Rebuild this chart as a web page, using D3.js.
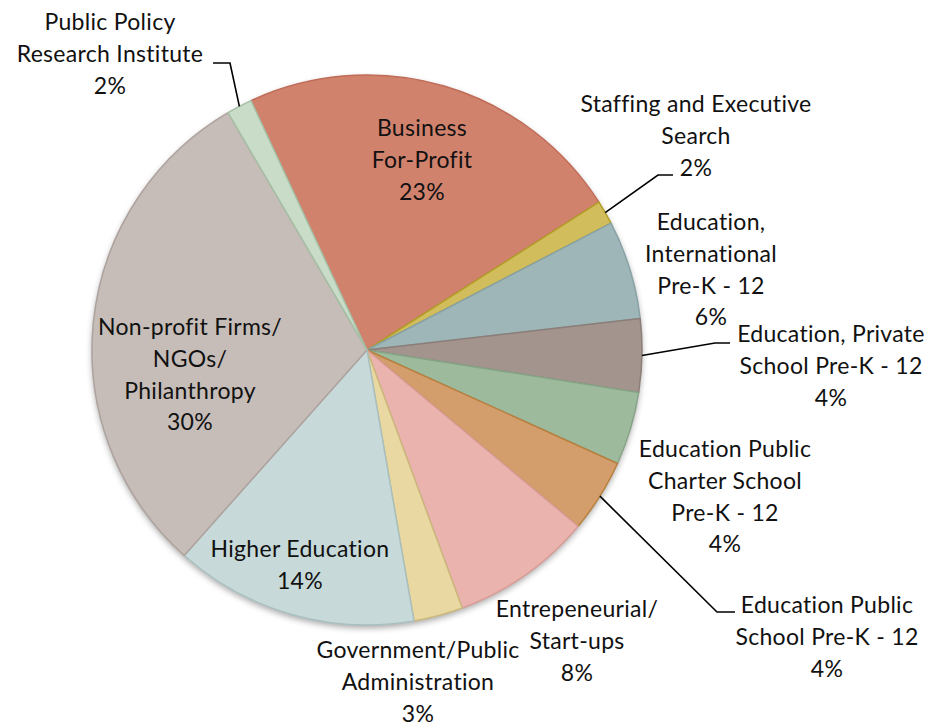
<!DOCTYPE html>
<html>
<head>
<meta charset="utf-8">
<script src="https://cdn.jsdelivr.net/npm/d3@7"></script>
<style>
  html, body { margin: 0; padding: 0; background: #fff; }
  svg text { font-family: "Lato", "Open Sans", sans-serif; font-size: 23px; letter-spacing: 0.3px;
             font-variant-ligatures: none; font-feature-settings: "liga" 0, "clig" 0, "dlig" 0; fill: #111; }
</style>
</head>
<body>
<svg id="chart" width="930" height="726"></svg>
<script>
// ---- Data ----
const categories = [
  "Business For-Profit",
  "Staffing and Executive Search",
  "Education, International Pre-K - 12",
  "Education, Private School Pre-K - 12",
  "Education Public Charter School Pre-K - 12",
  "Education Public School Pre-K - 12",
  "Entrepeneurial/ Start-ups",
  "Government/Public Administration",
  "Higher Education",
  "Non-profit Firms/ NGOs/ Philanthropy",
  "Public Policy Research Institute"
];
const values = [22.9, 1.4, 5.8, 4.3, 4.3, 4.3, 8.3, 2.9, 14.3, 30.0, 1.5];
const percentLabels = ["23%", "2%", "6%", "4%", "4%", "4%", "8%", "3%", "14%", "30%", "2%"];
const labelLines = [
  ["Business", "For-Profit"],
  ["Staffing and Executive", "Search"],
  ["Education,", "International", "Pre-K - 12"],
  ["Education, Private", "School Pre-K - 12"],
  ["Education Public", "Charter School", "Pre-K - 12"],
  ["Education Public", "School Pre-K - 12"],
  ["Entrepeneurial/", "Start-ups"],
  ["Government/Public", "Administration"],
  ["Higher Education"],
  ["Non-profit Firms/", "NGOs/", "Philanthropy"],
  ["Public Policy", "Research Institute"]
];
const fillColors = ["#D1826D", "#D2BD5C", "#9EB6B8", "#A3958E", "#9EBA9D", "#D49E6C",
                    "#EBB3AE", "#E9D8A1", "#C8D9D9", "#C6BDB8", "#C8DCC8"];
const strokeColors = ["#C06C57", "#B29E27", "#88A2A5", "#8C7E78", "#86A386", "#B8803F",
                      "#D99C96", "#CBB87C", "#A9C0C1", "#ADA29D", "#A6C0A5"];

// ---- Layout (positions) ----
const cx = 367, cy = 350, R = 275;
const startDeg = -24.95;
const lineH = 31.8;
// label anchor: x center, first baseline
const labelPos = [
  [422, 136], [696, 112], [711, 230], [831, 342], [725, 457], [827, 613],
  [577, 617], [418, 658], [300, 557], [190, 335], [110, 30]
];
// leader lines: [elbow point, end point] (null = none)
const leaders = [
  null, [[658, 175], [673, 175]], null, [[715, 343], [730, 343]], null,
  [[717, 612], [735, 612]], null, null, null, null, [[230, 63], [213, 63]]
];

const svg = d3.select("#chart");
const defs = svg.append("defs");
const f = defs.append("filter").attr("id", "shadow")
  .attr("x", "-10%").attr("y", "-10%").attr("width", "120%").attr("height", "125%");
f.append("feDropShadow").attr("dx", 0).attr("dy", 3).attr("stdDeviation", 3)
  .attr("flood-color", "#000").attr("flood-opacity", 0.35);

const pie = d3.pie().sort(null)
  .startAngle(startDeg * Math.PI / 180)
  .endAngle(startDeg * Math.PI / 180 + 2 * Math.PI)
  .value(d => d);
const arcs = pie(values);
const arc = d3.arc().innerRadius(0).outerRadius(R);

const g = svg.append("g").attr("transform", `translate(${cx},${cy})`);
g.append("circle").attr("r", R).attr("fill", "#ccc").attr("filter", "url(#shadow)");
g.selectAll("path.slice").data(arcs).enter().append("path")
  .attr("class", "slice")
  .attr("d", arc)
  .attr("fill", (d, i) => fillColors[i])
  .attr("stroke", (d, i) => strokeColors[i])
  .attr("stroke-width", 1.5)
  .attr("stroke-linejoin", "round");

// leader lines
arcs.forEach((d, i) => {
  const L = leaders[i];
  if (!L) return;
  const mid = (d.startAngle + d.endAngle) / 2;
  const px = cx + R * Math.sin(mid), py = cy - R * Math.cos(mid);
  svg.append("polyline")
    .attr("points", [[px, py], L[0], L[1]].map(p => p.join(",")).join(" "))
    .attr("fill", "none").attr("stroke", "#000").attr("stroke-width", 1.6);
});

// labels
arcs.forEach((d, i) => {
  const lines = labelLines[i].concat([percentLabels[i]]);
  const t = svg.append("text").attr("text-anchor", "middle");
  lines.forEach((s, k) => {
    t.append("tspan").attr("x", labelPos[i][0]).attr("y", labelPos[i][1] + k * lineH).text(s);
  });
});
</script>
</body>
</html>
